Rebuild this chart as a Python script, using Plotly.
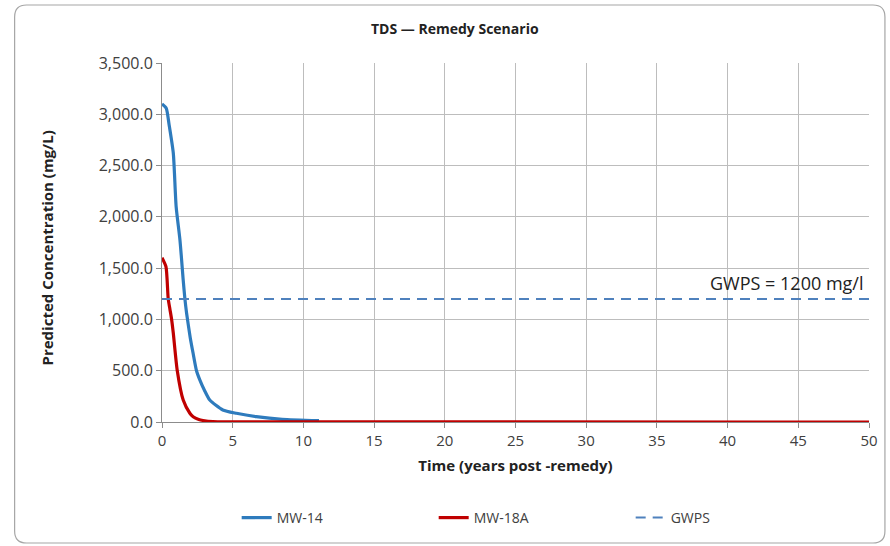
import plotly.graph_objects as go

# Predicted TDS concentrations (mg/L) after the remedy
mw14_years = [0, 0.3, 0.5, 0.8, 1.0, 1.27, 1.5, 1.62, 1.74, 2.0, 2.2, 2.44, 2.68, 3.0, 3.38, 4.3, 5.26, 6.67, 8.5, 11.1]
mw14_conc = [3100, 3060, 2900, 2620, 2100, 1774, 1384, 1200, 1060, 820, 670, 500, 409, 310, 214, 117, 85, 52, 26, 13]

mw18a_years = [0, 0.28, 0.44, 0.56, 0.68, 0.8, 1.08, 1.5, 1.97, 2.2, 2.6, 2.9, 3.6, 5, 50]
mw18a_conc = [1602, 1514, 1200, 1100, 1000, 865, 500, 214, 85, 52, 25, 15, 3, 1, 0]

gwps_years = [0, 50]
gwps_conc = [1200, 1200]
gwps_label = "GWPS = 1200 mg/l"

x_ticks = list(range(0, 55, 5))
y_ticks = list(range(0, 4000, 500))

FONT = "'Open Sans', Lato, sans-serif"
TXT = "#404040"
GRID = "#bdbdbd"

fig = go.Figure()
fig.add_trace(go.Scatter(x=mw14_years, y=mw14_conc, mode="lines", name="MW-14",
                         line=dict(color="#2e7bbd", width=3.2, shape="spline", smoothing=0.6)))
fig.add_trace(go.Scatter(x=mw18a_years, y=mw18a_conc, mode="lines", name="MW-18A",
                         line=dict(color="#c00000", width=3.2, shape="spline", smoothing=0.6)))
fig.add_trace(go.Scatter(x=gwps_years, y=gwps_conc, mode="lines", name="GWPS",
                         line=dict(color="#4f81bd", width=2, dash="10px,7px")))

fig.add_annotation(x=50, y=1200, xref="x", yref="y", text=gwps_label, showarrow=False,
                   xanchor="right", yanchor="bottom", xshift=-4, yshift=2,
                   font=dict(family=FONT, size=18, color="#222222"))

# Plot-area geometry in pixels, used for frame and label placement
L, R, T, B = 162, 872, 63, 422
W, H = R - L, B - T
def px(x):
    return (x - L) / W
def py(y):
    return (B - y) / H

# Vertical axis title
fig.add_annotation(x=px(47), y=py(248), xref="paper", yref="paper",
                   text="<b>Predicted Concentration (mg/L)</b>", textangle=-90,
                   showarrow=False, xanchor="center", yanchor="middle",
                   font=dict(family=FONT, size=15, color="#222222"))

# Rounded frame around the whole chart
x0, x1, y0, y1 = 14, 888, 5, 543
rx, ry = 12 / W, 12 / H
path = (f"M {px(x0)+rx},{py(y0)} L {px(x1)-rx},{py(y0)} Q {px(x1)},{py(y0)} {px(x1)},{py(y0)-ry} "
        f"L {px(x1)},{py(y1)+ry} Q {px(x1)},{py(y1)} {px(x1)-rx},{py(y1)} "
        f"L {px(x0)+rx},{py(y1)} Q {px(x0)},{py(y1)} {px(x0)},{py(y1)+ry} "
        f"L {px(x0)},{py(y0)-ry} Q {px(x0)},{py(y0)} {px(x0)+rx},{py(y0)} Z")
fig.add_shape(type="path", path=path, xref="paper", yref="paper",
              line=dict(color="#a6a6a6", width=1.2), layer="below")

fig.update_layout(
    width=890, height=546,
    margin=dict(l=L, r=890 - R, t=T, b=546 - B),
    paper_bgcolor="white", plot_bgcolor="white",
    title=dict(text="<b>TDS — Remedy Scenario</b>", x=0.511, xanchor="center",
               y=1 - 29 / 546, yanchor="middle",
               font=dict(family=FONT, size=14, color="#222222")),
    font=dict(family=FONT, color=TXT),
    showlegend=True,
    legend=dict(orientation="h", x=px(237), xanchor="left", y=py(518), yanchor="middle",
                font=dict(family=FONT, size=14, color=TXT), entrywidth=152, entrywidthmode="pixels",
                bgcolor="rgba(0,0,0,0)"),
)

fig.update_xaxes(
    range=[0, 50], tickvals=x_ticks, ticktext=[str(v) for v in x_ticks],
    showgrid=True, gridcolor=GRID, gridwidth=1,
    showline=True, linecolor="#8c8c8c", linewidth=1,
    ticks="outside", ticklen=5, tickcolor="#8c8c8c",
    tickfont=dict(family=FONT, size=15, color=TXT), zeroline=False,
    title=dict(text="<b>Time (years post -remedy)</b>", standoff=11,
               font=dict(family=FONT, size=15, color="#222222")),
)
fig.update_yaxes(
    range=[0, 3500], tickvals=y_ticks, tickformat=",.1f",
    showgrid=True, gridcolor=GRID, gridwidth=1,
    showline=True, linecolor="#8c8c8c", linewidth=1,
    ticks="outside", ticklen=5, tickcolor="#8c8c8c",
    tickfont=dict(family=FONT, size=16, color=TXT), zeroline=False,
)

fig.write_html("out.html")
